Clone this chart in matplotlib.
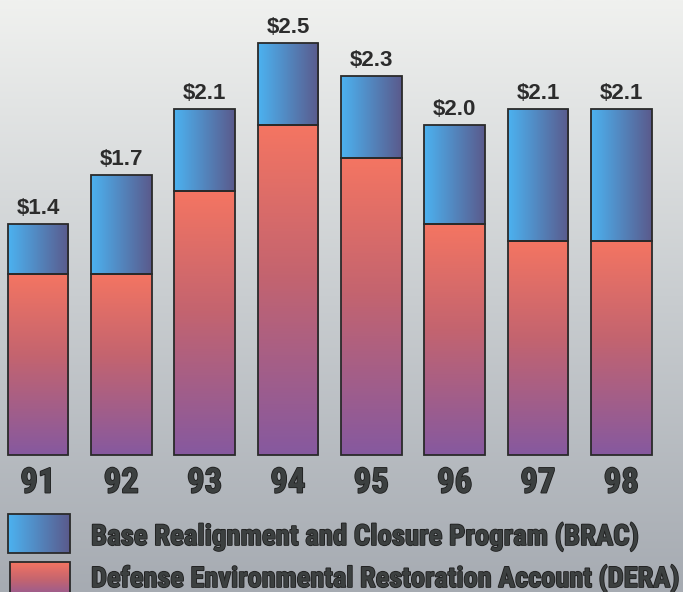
import numpy as np
import matplotlib.pyplot as plt
import matplotlib.patheffects as pe
from matplotlib.colors import LinearSegmentedColormap
from matplotlib.patches import Rectangle

# funding by fiscal year, $ billions
years = ['91', '92', '93', '94', '95', '96', '97', '98']
dera = [1.1, 1.1, 1.6, 2.0, 1.8, 1.4, 1.3, 1.3]
brac = [0.3, 0.6, 0.5, 0.5, 0.5, 0.6, 0.8, 0.8]
brac_name = 'Base Realignment and Closure Program (BRAC)'
dera_name = 'Defense Environmental Restoration Account (DERA)'

totals = [d + b for d, b in zip(dera, brac)]

# colour ramps
bg_cmap = LinearSegmentedColormap.from_list('bg', [(0, '#a6abb2'), (0.5, '#c9cdd0'), (1, '#f0f1ef')])
brac_cmap = LinearSegmentedColormap.from_list('brac', ['#4cb2f0', '#5a5a8c'])
dera_cmap = LinearSegmentedColormap.from_list('dera', [(0, '#86599f'), (0.55, '#c4646f'), (1, '#f47562')])
edge = '#2a2a2a'
txt = '#3c4040'

condensed = ['Liberation Sans Narrow', 'Roboto Condensed', 'Noto Sans Condensed',
             'DejaVu Sans Condensed', 'Open Sans Condensed', 'DejaVu Sans']

xmin, xmax = -0.456, 7.74
ymin, ymax = -0.83, 2.758

fig = plt.figure(figsize=(6.83, 5.92), dpi=100)
ax = fig.add_axes([0, 0, 1, 1])

# background
ramp = np.linspace(0, 1, 256).reshape(-1, 1)
ax.imshow(ramp, cmap=bg_cmap, extent=[xmin, xmax, ymin, ymax], origin='lower',
          aspect='auto', zorder=0)


def fill_gradient(patch, cmap, horizontal):
    x0, y0 = patch.get_x(), patch.get_y()
    w, h = patch.get_width(), patch.get_height()
    if horizontal:
        g = np.linspace(0, 1, 128).reshape(1, -1)
    else:
        g = np.linspace(0, 1, 128).reshape(-1, 1)
    im = ax.imshow(g, cmap=cmap, extent=[x0, x0 + w, y0, y0 + h], origin='lower',
                   aspect='auto', zorder=2, interpolation='bicubic')
    im.set_clip_path(patch)


x = np.arange(len(years))
width = 0.73
b1 = ax.bar(x, dera, width, facecolor='none', edgecolor=edge, linewidth=1.3, zorder=3)
b2 = ax.bar(x, brac, width, bottom=dera, facecolor='none', edgecolor=edge, linewidth=1.3, zorder=3)
for p in b1:
    fill_gradient(p, dera_cmap, False)
for p in b2:
    fill_gradient(p, brac_cmap, True)

# totals above the bars
for xi, t in zip(x, totals):
    ax.text(xi, t + 0.06, f'${t:.1f}', ha='center', va='baseline', fontsize=16,
            family='Liberation Sans', weight='bold', color='#2c2c2c')

heavy = dict(family=condensed, stretch='condensed', weight='black', color=txt,
             path_effects=[pe.Stroke(linewidth=1.2, foreground='#1e1e1e'), pe.Normal()])

# year labels
for xi, yr in zip(x, years):
    ax.text(xi, -0.17, yr, ha='center', va='center', fontsize=25, **heavy)

# legend swatches
def to_data(px, py):
    return xmin + px / 683 * (xmax - xmin), ymax - py / 592 * (ymax - ymin)

sx0, sy1 = to_data(8, 514)
sx1, sy0 = to_data(70, 553)
sw = Rectangle((sx0, sy0), sx1 - sx0, sy1 - sy0, facecolor='none', edgecolor=edge, lw=1.3, zorder=3)
ax.add_patch(sw)
fill_gradient(sw, brac_cmap, True)

sx0, sy1 = to_data(10, 562)
sx1, sy0 = to_data(70, 601)
sw2 = Rectangle((sx0, sy0), sx1 - sx0, sy1 - sy0, facecolor='none', edgecolor=edge, lw=1.3, zorder=3)
ax.add_patch(sw2)
fill_gradient(sw2, dera_cmap, False)

tx, ty = to_data(91, 545)
t1 = ax.text(tx, ty, brac_name, ha='left', va='baseline', fontsize=20, **heavy)
tx, ty = to_data(91, 587)
t2 = ax.text(tx, ty, dera_name, ha='left', va='baseline', fontsize=20, **heavy)

ax.set_xlim(xmin, xmax)
ax.set_ylim(ymin, ymax)
ax.axis('off')

# size the legend lines to their widths
fig.canvas.draw()
t1.set_fontsize(20 * 547 / t1.get_window_extent().width)
t2.set_fontsize(20 * 588 / t2.get_window_extent().width)

fig.savefig('out.png', dpi=100)
